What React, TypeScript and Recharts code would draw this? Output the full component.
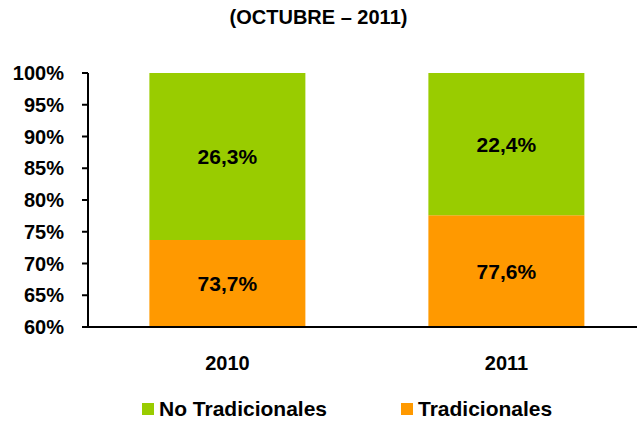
import { BarChart, Bar, XAxis, YAxis, LabelList } from 'recharts'

const years = ['2010', '2011']
const tradicionales = [73.7, 77.6]
const noTradicionales = [26.3, 22.4]
const yTicks = [60, 65, 70, 75, 80, 85, 90, 95, 100]

const data = years.map((year, i) => ({
  year,
  trad: tradicionales[i],
  noTrad: noTradicionales[i],
}))

const FONT = '"Liberation Sans", Arial, sans-serif'
const fmt = (v: number) => `${v.toFixed(1).replace('.', ',')}%`

const labelStyle = { fill: '#000', fontSize: 21, fontWeight: 'bold', fontFamily: FONT }

export default function App() {
  return (
    <div
      style={{
        position: 'absolute',
        left: 0,
        top: 0,
        width: 637,
        height: 421,
        overflow: 'hidden',
        background: '#fff',
        fontFamily: FONT,
      }}
    >
      <div
        style={{
          position: 'absolute',
          top: 6,
          left: 0,
          width: 637,
          textAlign: 'center',
          fontWeight: 'bold',
          fontSize: 20,
          color: '#000',
        }}
      >
        (OCTUBRE – 2011)
      </div>

      <BarChart
        width={660}
        height={421}
        data={data}
        margin={{ top: 73, right: 14, bottom: 54, left: 0 }}
        barCategoryGap="22%"
      >
        <XAxis
          dataKey="year"
          xAxisId="cat"
          axisLine={{ stroke: '#000', strokeWidth: 2 }}
          tickLine={false}
          tick={{ fill: '#000', fontSize: 20, fontWeight: 'bold', fontFamily: FONT }}
          tickMargin={23}
          height={40}
        />
        <XAxis
          xAxisId="edges"
          type="number"
          domain={[0, 2]}
          ticks={[0, 1, 2]}
          axisLine={false}
          tickLine={{ stroke: '#000', strokeWidth: 2 }}
          tickSize={6}
          tick={false}
          height={0}
        />
        <YAxis
          domain={[60, 100]}
          ticks={yTicks}
          allowDataOverflow
          width={88}
          interval={0}
          axisLine={{ stroke: '#000', strokeWidth: 2 }}
          tickLine={{ stroke: '#000', strokeWidth: 2 }}
          tickSize={6}
          tickMargin={18}
          tickFormatter={(v: number) => `${v}%`}
          tick={{ fill: '#000', fontSize: 20, fontWeight: 'bold', fontFamily: FONT }}
        />
        <Bar dataKey="trad" stackId="a" xAxisId="cat" fill="#FF9900" isAnimationActive={false}>
          <LabelList dataKey="trad" position="center" formatter={fmt} style={labelStyle} />
        </Bar>
        <Bar dataKey="noTrad" stackId="a" xAxisId="cat" fill="#99CC00" isAnimationActive={false}>
          <LabelList dataKey="noTrad" position="center" formatter={fmt} style={labelStyle} />
        </Bar>
      </BarChart>

      {/* legend */}
      <div
        style={{
          position: 'absolute',
          top: 397,
          left: 142,
          display: 'flex',
          alignItems: 'center',
          fontWeight: 'bold',
          fontSize: 21,
          color: '#000',
        }}
      >
        <span style={{ width: 12, height: 12, background: '#99CC00', marginRight: 5 }} />
        <span style={{ width: 242 }}>No Tradicionales</span>
        <span style={{ width: 12, height: 12, background: '#FF9900', marginRight: 5 }} />
        <span>Tradicionales</span>
      </div>
    </div>
  )
}
